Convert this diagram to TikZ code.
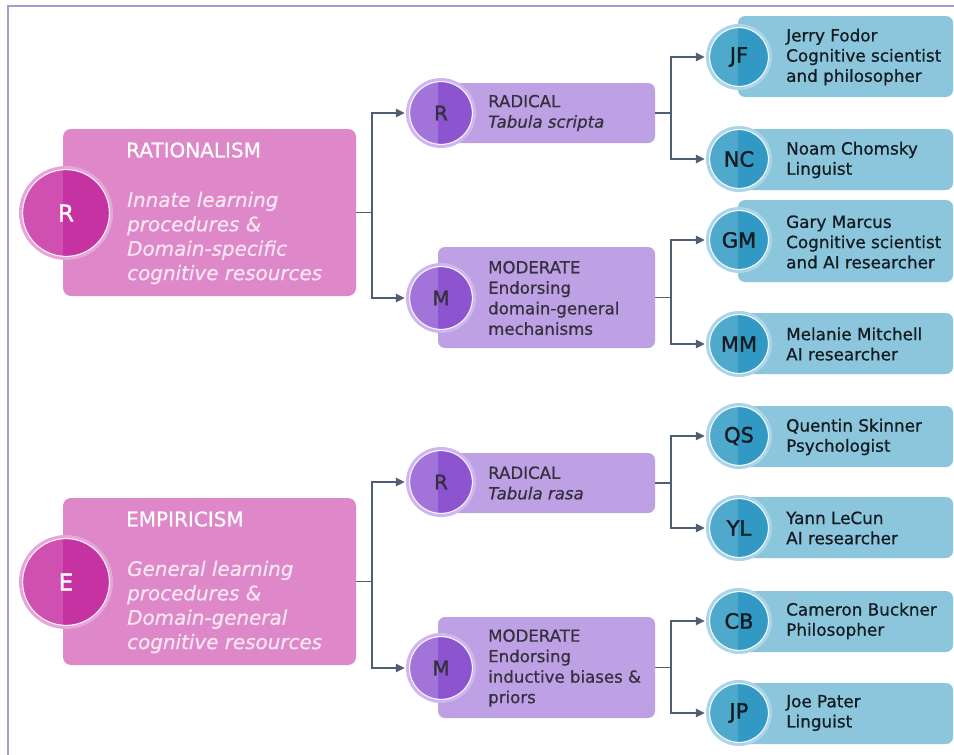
\documentclass[tikz,border=0pt]{standalone}
\usepackage{fontspec}
\setmainfont{DejaVu Sans}[FakeBold=0.7]
\newfontfamily\letterfont{DejaVu Sans}[FakeBold=1.4]
\usetikzlibrary{arrows.meta}

\definecolor{framecol}{HTML}{A99CC4}
\definecolor{conncol}{HTML}{4F5E72}
\definecolor{pinkbox}{HTML}{DE88C9}
\definecolor{pinkL}{HTML}{D050B1}
\definecolor{pinkD}{HTML}{C532A1}
\definecolor{pinkring}{HTML}{E6A6D9}
\definecolor{purpbox}{HTML}{BEA0E4}
\definecolor{purpL}{HTML}{A274DA}
\definecolor{purpD}{HTML}{8C55CF}
\definecolor{purpring}{HTML}{D0B6EF}
\definecolor{bluebox}{HTML}{8CC6DD}
\definecolor{blueL}{HTML}{4EA9CD}
\definecolor{blueD}{HTML}{3199C3}
\definecolor{bluering}{HTML}{ABD6E7}
\definecolor{pinktext}{HTML}{F7E6F2}
\definecolor{purptext}{HTML}{35303E}
\definecolor{bluetext}{HTML}{141C22}

% badge: name, centre x, centre y, radius, colour prefix, split x, letters, letter style
\newcommand\mybadge[8]{%
  \fill[#5ring] (#2,#3) circle[radius=#4pt];
  \fill[#5L] (#2,#3) circle[radius=#4pt-4pt];
  \begin{scope}
    \clip (#6,#3-60) rectangle (#2+60,#3+60);
    \fill[#5D] (#2,#3) circle[radius=#4pt-4pt];
  \end{scope}
  \draw[white,line width=1.1pt,opacity=.85] (#2,#3) circle[radius=#4pt-3.6pt];
  \node[circle,inner sep=0pt,minimum size=2*#4pt,#8] (#1) at (#2,#3) {#7};
}

\tikzset{
  panel/.style={anchor=north west,inner sep=0pt,outer sep=0pt},
  schoolbox/.style={panel,fill=pinkbox,rounded corners=8pt,minimum width=293pt},
  stancebox/.style={panel,fill=purpbox,rounded corners=7pt,minimum width=217pt},
  personbox/.style={panel,fill=bluebox,rounded corners=7pt,minimum width=215pt},
  schoolletter/.style={text=white,font=\letterfont\fontsize{23}{27}\selectfont},
  stanceletter/.style={text=purptext,font=\letterfont\fontsize{20}{24}\selectfont},
  personletter/.style={text=bluetext,font=\letterfont\fontsize{21}{25}\selectfont},
  schooltitle/.style={anchor=west,inner sep=0pt,text=white,font=\fontsize{20}{24}\selectfont},
  schooldesc/.style={anchor=west,inner sep=0pt,align=left,text=pinktext,
    font=\fontsize{19.9}{24.4}\selectfont\itshape},
  stancetext/.style={anchor=west,inner sep=0pt,align=left,text=purptext,
    font=\fontsize{16.6}{20.5}\selectfont},
  persontext/.style={anchor=west,inner sep=0pt,align=left,text=bluetext,
    font=\fontsize{16.8}{20.2}\selectfont},
  link/.style={draw=conncol,line width=1.3pt,-{Triangle[length=9pt,width=8.5pt]},
    shorten >=1pt},
}

\begin{document}
\begin{tikzpicture}[x=1pt,y=-1pt]
\useasboundingbox (0,0) rectangle (954,755);
\fill[white] (0,0) rectangle (954,755);
\draw[framecol,line width=2pt] (8,755) -- (8,6) -- (954,6);

% ---------- schools of thought ----------
\node[schoolbox,minimum height=167pt] (ratbox) at (63,129) {};
\node[schoolbox,minimum height=167pt] (empbox) at (63,498) {};
\mybadge{ratc}{66}{213}{47}{pink}{63}{R}{schoolletter}
\mybadge{empc}{66}{582}{47}{pink}{63}{E}{schoolletter}
\node[schooltitle] (ratt) at (126,150) {RATIONALISM};
\node[schooldesc] (ratd) at (127,238) {Innate learning\\procedures \&\\Domain-specific\\cognitive resources};
\node[schooltitle] (empt) at (126,519) {EMPIRICISM};
\node[schooldesc] (empd) at (127,607) {General learning\\procedures \&\\Domain-general\\cognitive resources};

% ---------- radical / moderate stances ----------
\node[stancebox,minimum height=60pt] (rradbox) at (438,83) {};
\node[stancebox,minimum height=101pt] (rmodbox) at (438,247) {};
\node[stancebox,minimum height=60pt] (eradbox) at (438,453) {};
\node[stancebox,minimum height=101pt] (emodbox) at (438,617) {};
\mybadge{rradc}{441}{113}{35}{purp}{438}{R}{stanceletter}
\mybadge{rmodc}{441}{298}{35}{purp}{438}{M}{stanceletter}
\mybadge{eradc}{441}{482}{35}{purp}{438}{R}{stanceletter}
\mybadge{emodc}{441}{668}{35}{purp}{438}{M}{stanceletter}
\node[stancetext] (rradt) at (488,113) {RADICAL\\\textit{Tabula scripta}};
\node[stancetext] (rmodt) at (488,298) {MODERATE\\Endorsing\\domain-general\\mechanisms};
\node[stancetext] (eradt) at (488,483) {RADICAL\\\textit{Tabula rasa}};
\node[stancetext] (emodt) at (488,668) {MODERATE\\Endorsing\\inductive biases \&\\priors};

% ---------- representatives ----------
\node[personbox,minimum height=81pt] (jfbox) at (738,16) {};
\node[personbox,minimum height=61pt] (ncbox) at (738,129) {};
\node[personbox,minimum height=82pt] (gmbox) at (738,200) {};
\node[personbox,minimum height=61pt] (mmbox) at (738,313) {};
\node[personbox,minimum height=61pt] (qsbox) at (738,406) {};
\node[personbox,minimum height=61pt] (ylbox) at (738,497) {};
\node[personbox,minimum height=61pt] (cbbox) at (738,591) {};
\node[personbox,minimum height=61pt] (jpbox) at (738,683) {};
\mybadge{jfc}{739}{57}{33}{blue}{738}{JF}{personletter}
\mybadge{ncc}{739}{159}{33}{blue}{738}{NC}{personletter}
\mybadge{gmc}{739}{240}{33}{blue}{738}{GM}{personletter}
\mybadge{mmc}{739}{344}{33}{blue}{738}{MM}{personletter}
\mybadge{qsc}{739}{436}{33}{blue}{738}{QS}{personletter}
\mybadge{ylc}{739}{528}{33}{blue}{738}{YL}{personletter}
\mybadge{cbc}{739}{621}{33}{blue}{738}{CB}{personletter}
\mybadge{jpc}{739}{713}{33}{blue}{738}{JP}{personletter}
\node[persontext] (jft) at (786,57) {Jerry Fodor\\Cognitive scientist\\and philosopher};
\node[persontext] (nct) at (786,160) {Noam Chomsky\\Linguist};
\node[persontext] (gmt) at (786,242) {Gary Marcus\\Cognitive scientist\\and AI researcher};
\node[persontext] (mmt) at (786,344) {Melanie Mitchell\\AI researcher};
\node[persontext] (qst) at (786,437) {Quentin Skinner\\Psychologist};
\node[persontext] (ylt) at (786,528) {Yann LeCun\\AI researcher};
\node[persontext] (cbt) at (786,621) {Cameron Buckner\\Philosopher};
\node[persontext] (jpt) at (786,713) {Joe Pater\\Linguist};

% ---------- connectors ----------
\draw[link] (ratbox.east) -- ++(16,0) |- (rradc.west);
\draw[link] (ratbox.east) -- ++(16,0) |- (rmodc.west);
\draw[link] (empbox.east) -- ++(16,0) |- (eradc.west);
\draw[link] (empbox.east) -- ++(16,0) |- (emodc.west);
\draw[link] (rradbox.east) -- ++(16,0) |- (jfc.west);
\draw[link] (rradbox.east) -- ++(16,0) |- (ncc.west);
\draw[link] (rmodbox.east) -- ++(16,0) |- (gmc.west);
\draw[link] (rmodbox.east) -- ++(16,0) |- (mmc.west);
\draw[link] (eradbox.east) -- ++(16,0) |- (qsc.west);
\draw[link] (eradbox.east) -- ++(16,0) |- (ylc.west);
\draw[link] (emodbox.east) -- ++(16,0) |- (cbc.west);
\draw[link] (emodbox.east) -- ++(16,0) |- (jpc.west);
\end{tikzpicture}
\end{document}
